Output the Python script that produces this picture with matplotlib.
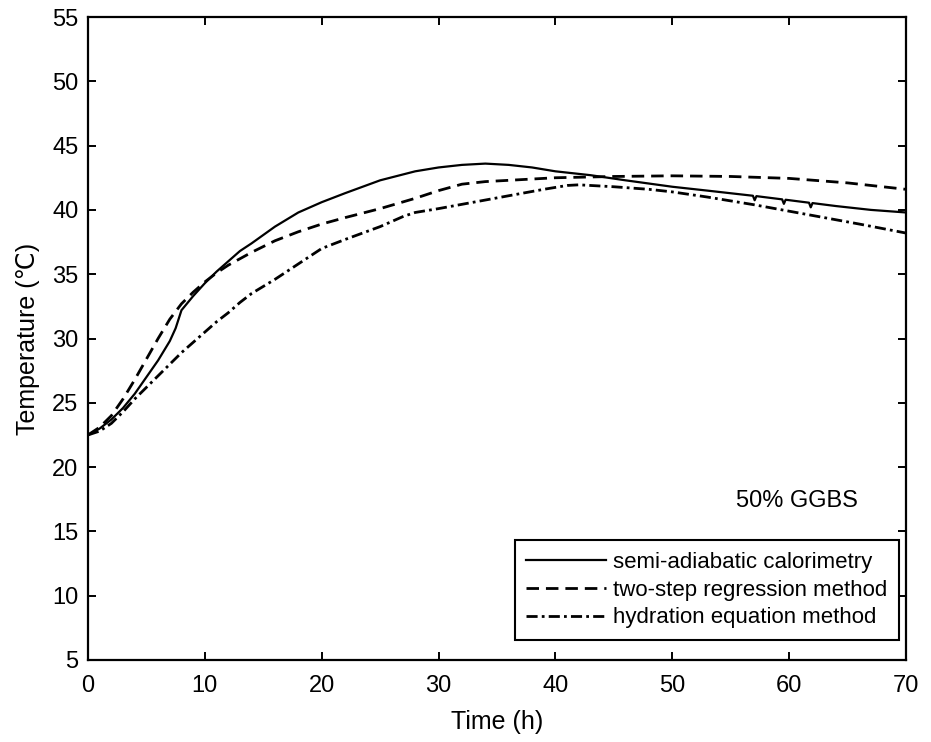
import matplotlib
matplotlib.use("Agg")
import matplotlib.pyplot as plt

plt.rcParams['font.family'] = ['Liberation Sans', 'DejaVu Sans']

# semi-adiabatic calorimetry
t_semi = [0, 1, 2, 3, 4, 5, 6, 7, 7.5, 8, 9, 10, 11, 12, 13, 14, 16, 18, 20, 22, 25, 28, 30,
          32, 34, 36, 38, 40, 43, 46, 50, 53, 56.9, 57.05, 57.2, 59.4, 59.55, 59.7,
          61.7, 61.85, 62.0, 64, 67, 70]
T_semi = [22.5, 23.0, 23.7, 24.6, 25.7, 27.0, 28.3, 29.8, 30.8, 32.2, 33.3, 34.3, 35.2, 36.0,
          36.8, 37.4, 38.7, 39.8, 40.6, 41.3, 42.3, 43.0, 43.3, 43.5, 43.6, 43.5, 43.3, 43.0,
          42.7, 42.3, 41.8, 41.5, 41.1, 40.75, 41.07, 40.82, 40.47, 40.79, 40.56, 40.2, 40.53,
          40.3, 40.0, 39.8]

# two-step regression method
t_two = [0, 1, 2, 3, 4, 5, 6, 7, 8, 9, 10, 11, 12, 14, 16, 18, 20, 22, 25, 28, 30, 32, 34,
         37, 40, 45, 50, 55, 60, 65, 70]
T_two = [22.5, 23.1, 24.0, 25.3, 26.8, 28.4, 30.0, 31.5, 32.7, 33.6, 34.4, 35.1, 35.7, 36.7,
         37.6, 38.3, 38.9, 39.4, 40.1, 40.9, 41.5, 42.0, 42.2, 42.35, 42.5, 42.6, 42.65, 42.6,
         42.45, 42.1, 41.6]

# hydration equation method
t_hyd = [0, 1, 2, 3, 4, 5, 6, 7, 8, 9, 10, 11, 12, 13, 14, 16, 18, 20, 22, 25, 27, 28, 30,
         33, 36, 39, 41, 42, 45, 48, 50, 53, 57, 60, 63, 66, 70]
T_hyd = [22.5, 22.8, 23.4, 24.3, 25.3, 26.2, 27.1, 28.0, 28.9, 29.7, 30.5, 31.3, 32.0, 32.8,
         33.5, 34.6, 35.8, 37.0, 37.7, 38.7, 39.5, 39.8, 40.1, 40.6, 41.1, 41.6, 41.9, 41.95,
         41.8, 41.6, 41.4, 41.0, 40.4, 39.9, 39.4, 38.9, 38.2]

x_ticks = [0, 10, 20, 30, 40, 50, 60, 70]
y_ticks = [5, 10, 15, 20, 25, 30, 35, 40, 45, 50, 55]

fig = plt.figure(figsize=(9.31, 7.42), dpi=100)
ax = fig.add_axes([88 / 931, 1 - 660 / 742, 818 / 931, 643 / 742])

ax.plot(t_semi, T_semi, color='black', lw=1.6, linestyle='-', label='semi-adiabatic calorimetry')
ax.plot(t_two, T_two, color='black', lw=2.0, linestyle=(0, (4.5, 2.5)), label='two-step regression method')
ax.plot(t_hyd, T_hyd, color='black', lw=2.0, linestyle=(0, (4.0, 1.5, 1.0, 1.5)), label='hydration equation method')

ax.set_xlim(0, 70)
ax.set_ylim(5, 55)
ax.set_xticks(x_ticks)
ax.set_yticks(y_ticks)
ax.tick_params(direction='in', which='both', top=True, right=True, length=6, width=1.4,
               labelsize=17)
ax.tick_params(axis='x', pad=11)
ax.tick_params(axis='y', pad=7)
for s in ax.spines.values():
    s.set_linewidth(1.6)

ax.set_xlabel('Time (h)', fontsize=18, labelpad=9)
ax.set_ylabel('Temperature (℃)', fontsize=18, labelpad=9)

ax.text(60.7, 17.4, '50% GGBS', fontsize=17, ha='center', va='center')

leg = ax.legend(loc='lower right', bbox_to_anchor=(0.9915, 0.031), fontsize=16, frameon=True,
                fancybox=False, edgecolor='black', handlelength=3.6, borderaxespad=0,
                labelspacing=0.3, handletextpad=0.3, borderpad=0.53)
leg.get_frame().set_linewidth(1.5)
leg.get_frame().set_alpha(1)

fig.savefig('out.png', dpi=100)
